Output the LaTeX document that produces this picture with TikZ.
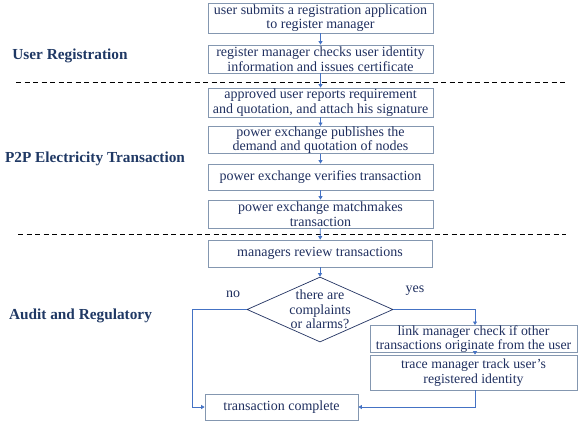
\documentclass[tikz,border=0pt]{standalone}
\usepackage{fontspec}
\setmainfont{Liberation Serif}
\usetikzlibrary{arrows.meta,shapes.geometric}
\definecolor{boxc}{HTML}{8497B0}
\definecolor{arrc}{HTML}{4472C4}
\definecolor{txtc}{HTML}{1F2F5F}
\definecolor{labc}{HTML}{1F3864}
\tikzset{
  box/.style={draw=boxc, line width=0.8pt, inner sep=0pt, align=center, text=txtc,
    font=\fontsize{14}{14.5}\selectfont, minimum width=225pt},
  small/.style={font=\fontsize{13.8}{14.5}\selectfont},
  flow/.style={draw=arrc, line width=0.7pt, -{Triangle[width=4pt,length=3.5pt]}},
  sect/.style={font=\bfseries\fontsize{15.3}{17}\selectfont, text=labc},
  sep/.style={draw=black, line width=0.7pt, dash pattern=on 5pt off 3.5pt},
  lab/.style={text=txtc, font=\fontsize{14}{14.5}\selectfont}
}
\begin{document}
\begin{tikzpicture}[x=1pt,y=-1pt]
\useasboundingbox (0,0) rectangle (578,423);
\node[box, minimum height=30pt] (b1) at (320.5,18) {user submits a registration application\\to register manager};
\node[box, minimum height=28pt] (b2) at (320.5,59) {register manager checks user identity\\information and issues certificate};
\node[box, minimum height=29pt] (b3) at (320.5,102.5) {approved user reports requirement\\and quotation, and attach his signature};
\node[box, minimum height=26pt] (b4) at (320.5,140) {power exchange publishes the\\demand and quotation of nodes};
\node[box, minimum height=26pt] (b5) at (320.5,177) {power exchange verifies transaction};
\node[box, minimum height=28pt] (b6) at (320.5,214) {power exchange matchmakes\\transaction};
\node[box, minimum height=27pt, minimum width=224pt] (b7) at (320,253.5) {managers review transactions};
\node[draw=txtc, line width=0.7pt, diamond, minimum width=146pt, minimum height=65pt, inner sep=0pt] (d) at (320,309.5) {};
\node[lab, align=center] (dt) at (d) {there are\\complaints\\or alarms?};
\node[box, small, minimum width=207pt, minimum height=26pt] (b8) at (473.5,339) {link manager check if other\\transactions originate from the user};
\node[box, small, minimum width=207pt, minimum height=35pt] (b9) at (473.5,372.5) {trace manager track user's\\registered identity};
\node[box, minimum width=153pt, minimum height=26pt] (b10) at (281.5,407) {transaction complete};

\node[sect] (s1) at (70,56) {User Registration};
\node[sect] (s2) at (95,159) {P2P Electricity Transaction};
\node[sect] (s3) at (80.5,315.5) {Audit and Regulatory};

\draw[sep] (16,82) -- (566,82);
\draw[sep] (18,234) -- (566,234);

\node[lab] (no) at (233,294) {no};
\node[lab] (yes) at (415,291) {yes};

\draw[flow] (b1) -- (b2);
\draw[flow] (b2) -- (b3);
\draw[flow] (b3) -- (b4);
\draw[flow] (b4) -- (b5);
\draw[flow] (b5) -- (b6);
\draw[flow] (b6) -- (b7);
\draw[flow] (b7) -- (d);
\draw[flow] (d.west) -| (192,407) -- (b10.west);
\draw[flow] (d.east) -| (b8.north -| 475,0);
\draw[flow] (b8.south -| 475,0) -- (b9.north -| 475,0);
\draw[flow] (b9.south -| 475,0) |- (b10.east);
\end{tikzpicture}
\end{document}
